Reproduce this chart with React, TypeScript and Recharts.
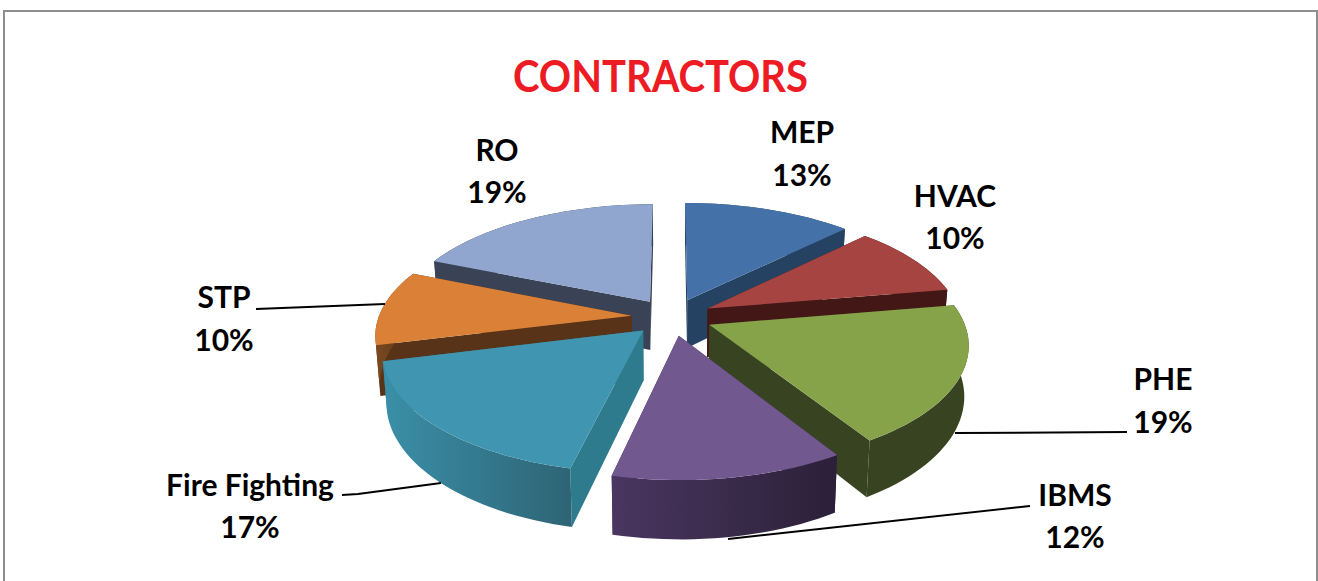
import React from "react";
import { PieChart, Pie } from "recharts";

const names = ["MEP", "HVAC", "PHE", "IBMS", "Fire Fighting", "STP", "RO"];
const values = [12.55, 9.75, 18.85, 12.45, 17.45, 10.2, 18.75];
const paintOrder = ["RO", "MEP", "HVAC", "STP", "PHE", "Fire Fighting", "IBMS"];
const topColors = ["#4472A8", "#A64442", "#87A34A", "#71588F", "#4095B0", "#DA8137", "#91A6CE"];
const cutColors = ["#254263", "#421716", "#384322", "#3A2A50", "#2E7B8D", "#593317", "#3A4256"];
const wallFrom = ["#254263", "#421716", "#384322", "#4A3660", "#3A8FA8", "#7A4A20", "#3A4256"];
const wallTo = ["#254263", "#421716", "#384322", "#2B2038", "#2E6475", "#593317", "#3A4256"];

const labelPlace: Record<string, { x: number; y1: number; y2: number; line?: number[][] }> = {
  MEP: { x: 802, y1: 143, y2: 186 },
  HVAC: { x: 955, y1: 207, y2: 249 },
  PHE: { x: 1163, y1: 390, y2: 433, line: [[1127, 432], [955, 433]] },
  IBMS: { x: 1075, y1: 506, y2: 548, line: [[1030, 506], [728, 539]] },
  "Fire Fighting": { x: 250, y1: 496, y2: 538, line: [[342, 495], [358, 494], [441, 483]] },
  STP: { x: 224, y1: 308, y2: 351, line: [[256, 309], [385, 304]] },
  RO: { x: 497, y1: 161, y2: 203 },
};

const TILT = 0.46;
const PERSP = 0.15;
const EXPLODE = 0.16;
const DEPTH = 49;
const FONT = "Lato, Carlito, sans-serif";
const rad = (d: number) => (d * Math.PI) / 180;

function makeShape(only: string) {
  return function SliceShape(props: any) {
    const name = props.name ?? props.payload?.name;
    if (name !== only) return <g />;
    const { cx, cy, outerRadius: R, startAngle, endAngle } = props;
    const i = names.indexOf(name);
    const t0 = 90 - startAngle;
    const t1 = 90 - endAngle;
    const mid = (t0 + t1) / 2;
    const ox = EXPLODE * Math.sin(rad(mid));
    const oy = -EXPLODE * Math.cos(rad(mid));
    const proj = (theta: number, r: number, low: boolean) => {
      const u = ox + r * Math.sin(rad(theta));
      const v = oy - r * Math.cos(rad(theta));
      const s = 1 / (1 - PERSP * v);
      const xx = R * u * s;
      const yy = R * TILT * v * s;
      return low ? [cx + xx * 0.985, cy + yy + DEPTH * s] : [cx + xx, cy + yy];
    };
    const arc = (low: boolean) => {
      const pts: number[][] = [];
      const n = Math.max(2, Math.ceil((t1 - t0) / 2));
      for (let k = 0; k <= n; k++) pts.push(proj(t0 + ((t1 - t0) * k) / n, 1, low));
      return pts;
    };
    const toD = (pts: number[][]) => "M" + pts.map((p) => `${p[0].toFixed(1)},${p[1].toFixed(1)}`).join("L") + "Z";
    const topArc = arc(false);
    const lowArc = arc(true);
    const aTop = proj(0, 0, false);
    const aLow = proj(0, 0, true);
    const gid = `wall-${i}`;
    const last = topArc.length - 1;
    return (
      <g>
        <defs>
          <linearGradient id={gid} x1="0" y1="0" x2="1" y2="0">
            <stop offset="0" stopColor={wallFrom[i]} />
            <stop offset="1" stopColor={wallTo[i]} />
          </linearGradient>
        </defs>
        <path d={toD([aTop, topArc[0], lowArc[0], aLow])} fill={cutColors[i]} />
        <path d={toD([aTop, topArc[last], lowArc[last], aLow])} fill={cutColors[i]} />
        <path d={toD([...topArc, ...[...lowArc].reverse()])} fill={`url(#${gid})`} />
        <path d={toD([aTop, ...topArc])} fill={topColors[i]} />
      </g>
    );
  };
}

function renderLabel(props: any) {
  const name = props.name ?? props.payload?.name;
  const pl = labelPlace[name];
  if (!pl) return <g />;
  const pct = `${Math.round(props.percent * 100)}%`;
  const common = { fontFamily: FONT, fontWeight: 700, fontSize: 30, fill: "#000", textAnchor: "middle" as const };
  return (
    <g key={name}>
      {pl.line && <polyline points={pl.line.map((p) => p.join(",")).join(" ")} fill="none" stroke="#000" strokeWidth={2} />}
      <text x={pl.x} y={pl.y1} {...common}>{name}</text>
      <text x={pl.x} y={pl.y2} {...common}>{pct}</text>
    </g>
  );
}

const data = names.map((name, i) => ({ name, value: values[i] }));

export default function App() {
  return (
    <div style={{ position: "absolute", left: 0, top: 0, width: 1318, height: 581, overflow: "hidden", background: "#fff" }}>
      <div style={{ position: "absolute", left: 3, top: 10, width: 1311, height: 700, border: "2px solid #8e8e8e" }} />
      <div style={{ position: "absolute", left: 0, top: 0 }}>
        <PieChart width={1318} height={581} margin={{ top: 0, right: 0, bottom: 0, left: 0 }}>
          {paintOrder.map((n, idx) => (
            <Pie
              key={n}
              data={data}
              dataKey="value"
              nameKey="name"
              cx={672}
              cy={317}
              innerRadius={0}
              outerRadius={253}
              startAngle={90}
              endAngle={-270}
              isAnimationActive={false}
              stroke="none"
              shape={makeShape(n)}
              label={idx === paintOrder.length - 1 ? renderLabel : false}
              labelLine={false}
            />
          ))}
          <text x={660.5} y={92} textAnchor="middle" fontFamily={FONT} fontWeight={700} fontSize={44} fill="#ED1C24" textLength={295} lengthAdjust="spacingAndGlyphs">CONTRACTORS</text>
        </PieChart>
      </div>
    </div>
  );
}
